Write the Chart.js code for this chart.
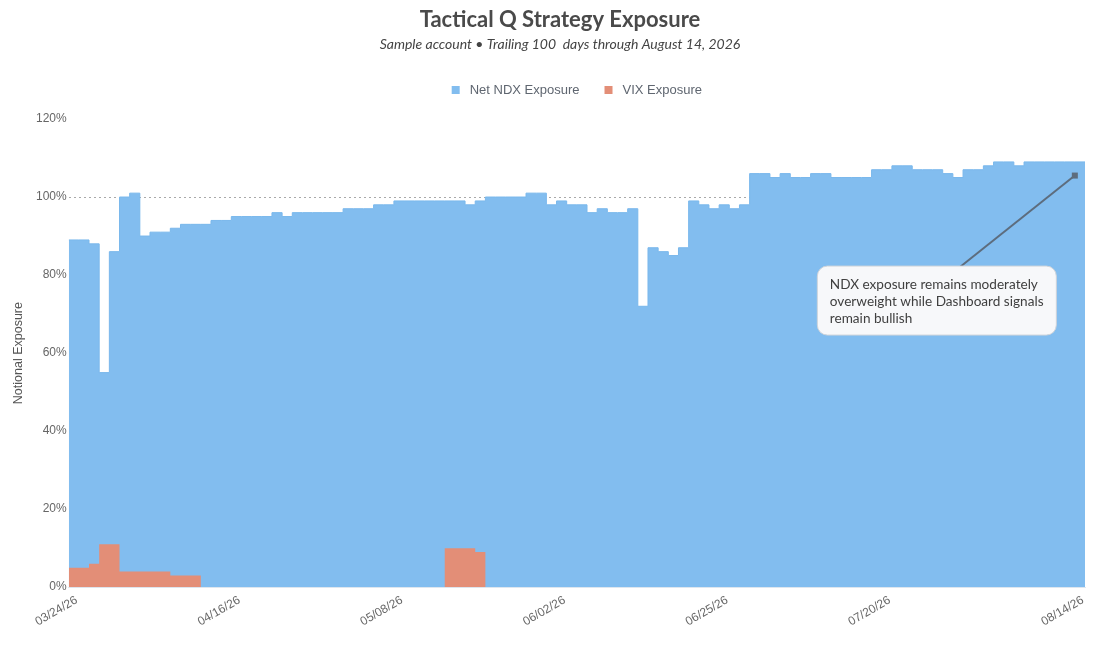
<!DOCTYPE html>
<html>
<head>
<meta charset="utf-8">
<title>Tactical Q Strategy Exposure</title>
<script src="https://cdn.jsdelivr.net/npm/chart.js@4.4.1/dist/chart.umd.min.js"></script>
<style>
  html, body { margin: 0; padding: 0; background: #fff; }
  #wrap { width: 1100px; height: 648px; position: relative; }
</style>
</head>
<body>
<div id="wrap"><canvas id="chart"></canvas></div>
<script>
// trading days from 03/24/26, 100 sessions (market holidays skipped)
const startDate = '2026-03-24';
const dayCount = 100;
const holidays = ['2026-04-03', '2026-05-25', '2026-06-19', '2026-07-03'];

// exposure in % of account, one value per session
const ndxExposure = [
  89, 89, 88, 55, 86, 100, 101, 90, 91, 91,
  92, 93, 93, 93, 94, 94, 95, 95, 95, 95,
  96, 95, 96, 96, 96, 96, 96, 97, 97, 97,
  98, 98, 99, 99, 99, 99, 99, 99, 99, 98,
  99, 100, 100, 100, 100, 101, 101, 98, 99, 98,
  98, 96, 97, 96, 96, 97, 72, 87, 86, 85,
  87, 99, 98, 97, 98, 97, 98, 106, 106, 105,
  106, 105, 105, 106, 106, 105, 105, 105, 105, 107,
  107, 108, 108, 107, 107, 107, 106, 105, 107, 107,
  108, 109, 109, 108, 109, 109, 109, 109, 109, 109
];
const vixExposure = [
  5, 5, 6, 11, 11, 4, 4, 4, 4, 4,
  3, 3, 3, 0, 0, 0, 0, 0, 0, 0,
  0, 0, 0, 0, 0, 0, 0, 0, 0, 0,
  0, 0, 0, 0, 0, 0, 0, 10, 10, 10,
  9, 0, 0, 0, 0, 0, 0, 0, 0, 0,
  0, 0, 0, 0, 0, 0, 0, 0, 0, 0,
  0, 0, 0, 0, 0, 0, 0, 0, 0, 0,
  0, 0, 0, 0, 0, 0, 0, 0, 0, 0,
  0, 0, 0, 0, 0, 0, 0, 0, 0, 0,
  0, 0, 0, 0, 0, 0, 0, 0, 0, 0
];

// which sessions get a date label
const tickIndex = [0, 16, 32, 48, 64, 80, 99];

const titleText = 'Tactical Q Strategy Exposure';
const subtitleText = 'Sample account \u2022 Trailing 100  days through August 14, 2026';
const noteLines = [
  'NDX exposure remains moderately',
  'overweight while Dashboard signals',
  'remain bullish'
];
const noteIndex = 99;
const noteValue = 105.5;

const ndxColor = '#82bdef';
const vixColor = '#e38e77';

// build the date labels
const dates = [];
const d = new Date(startDate + 'T00:00:00Z');
while (dates.length < dayCount) {
  const iso = d.toISOString().slice(0, 10);
  const wd = d.getUTCDay();
  if (wd !== 0 && wd !== 6 && !holidays.includes(iso)) {
    dates.push(iso.slice(5, 7) + '/' + iso.slice(8, 10) + '/' + iso.slice(2, 4));
  }
  d.setUTCDate(d.getUTCDate() + 1);
}

// each value holds for its whole session, so close the last step one day later
function stepPoints(values) {
  const pts = values.map((v, i) => ({ x: i, y: v }));
  pts.push({ x: values.length, y: values[values.length - 1] });
  return pts;
}

// title, subtitle and legend
const headerPlugin = {
  id: 'header',
  afterDraw(chart) {
    const ctx = chart.ctx;
    const area = chart.chartArea;
    ctx.save();
    ctx.textBaseline = 'middle';
    ctx.textAlign = 'center';
    ctx.fillStyle = '#4a4a4a';
    ctx.font = 'bold 22px Lato';
    ctx.fillText(titleText, 560, 20);
    ctx.fillStyle = '#444';
    ctx.font = 'italic 14px Lato';
    ctx.fillText(subtitleText, 560, 44);

    const items = [
      { text: 'Net NDX Exposure', color: ndxColor },
      { text: 'VIX Exposure', color: vixColor }
    ];
    ctx.font = '13px "Liberation Sans"';
    const box = 8, gap = 10, spacing = 25;
    let total = 0;
    items.forEach((it, i) => {
      it.w = ctx.measureText(it.text).width;
      total += box + gap + it.w + (i < items.length - 1 ? spacing : 0);
    });
    let x = (area.left + area.right) / 2 - total / 2;
    const y = 90;
    ctx.textAlign = 'left';
    items.forEach(it => {
      ctx.fillStyle = it.color;
      ctx.fillRect(x, y - box / 2, box, box);
      x += box + gap;
      ctx.fillStyle = '#5f6670';
      ctx.fillText(it.text, x, y);
      x += it.w + spacing;
    });
    ctx.restore();
  }
};

// callout box with arrow to the latest session
const notePlugin = {
  id: 'note',
  afterDraw(chart) {
    const { ctx, scales: { x, y } } = chart;
    const hx = x.getPixelForValue(noteIndex);
    const hy = y.getPixelForValue(noteValue);
    const tx = hx - 118, ty = hy + 90;
    const bx = tx - 140, by = ty, bw = 239, bh = 69;

    ctx.save();
    ctx.strokeStyle = '#5d6d7e';
    ctx.lineWidth = 2;
    ctx.beginPath();
    ctx.moveTo(hx, hy);
    ctx.lineTo(tx, ty + 4);
    ctx.stroke();
    ctx.fillStyle = '#5d6d7e';
    ctx.fillRect(hx - 3, hy - 3, 6, 6);

    ctx.beginPath();
    ctx.roundRect(bx + 0.5, by + 0.5, bw, bh, 10);
    ctx.fillStyle = '#f7f8fa';
    ctx.fill();
    ctx.strokeStyle = '#cfd4da';
    ctx.lineWidth = 1;
    ctx.stroke();

    ctx.fillStyle = '#404040';
    ctx.font = '13.6px Lato';
    ctx.textBaseline = 'middle';
    ctx.textAlign = 'left';
    noteLines.forEach((line, i) => {
      ctx.fillText(line, bx + 13, by + 19 + i * 17);
    });
    ctx.restore();
  }
};

Chart.defaults.font.family = '"Liberation Sans", Arial, sans-serif';
Chart.defaults.color = '#666';

const chart = document.querySelector('#chart').getContext('2d');

new Chart(chart, {
  type: 'line',
  data: {
    datasets: [
      {
        label: 'Net NDX Exposure',
        data: stepPoints(ndxExposure),
        stepped: true,
        fill: 'origin',
        backgroundColor: ndxColor,
        borderColor: '#7ab8ec',
        borderWidth: 1,
        pointRadius: 0,
        order: 2
      },
      {
        label: 'VIX Exposure',
        data: stepPoints(vixExposure),
        stepped: true,
        fill: 'origin',
        backgroundColor: vixColor,
        borderColor: 'rgba(0,0,0,0)',
        borderWidth: 1,
        pointRadius: 0,
        order: 1
      }
    ]
  },
  options: {
    responsive: true,
    maintainAspectRatio: false,
    animation: false,
    layout: { padding: { top: 119, left: 7, right: 15, bottom: 21 } },
    plugins: {
      legend: { display: false },
      title: { display: false },
      tooltip: { enabled: false }
    },
    scales: {
      x: {
        type: 'linear',
        min: 0,
        max: dayCount,
        afterBuildTicks: (scale) => {
          scale.ticks = tickIndex.map(v => ({ value: v }));
        },
        ticks: {
          autoSkip: false,
          maxRotation: 30,
          minRotation: 30,
          color: '#666',
          font: { size: 12 },
          padding: -2,
          labelOffset: 8,
          callback: (v) => dates[v]
        },
        grid: { display: false },
        border: { display: true, color: '#dfe7ef' }
      },
      y: {
        min: 0,
        max: 120,
        z: 1,
        ticks: {
          stepSize: 20,
          color: '#666',
          font: { size: 12 },
          padding: 2,
          callback: (v) => v + '%'
        },
        grid: {
          drawTicks: false,
          lineWidth: 1,
          color: (c) => (c.tick && c.tick.value === 100 ? '#a9a9a9' : 'rgba(0,0,0,0)')
        },
        border: { display: false, dash: [2, 3] },
        title: {
          display: true,
          text: 'Notional Exposure',
          color: '#555',
          font: { size: 12.5 },
          padding: { top: 4, bottom: 8 }
        }
      }
    }
  },
  plugins: [headerPlugin, notePlugin]
});
</script>
</body>
</html>
